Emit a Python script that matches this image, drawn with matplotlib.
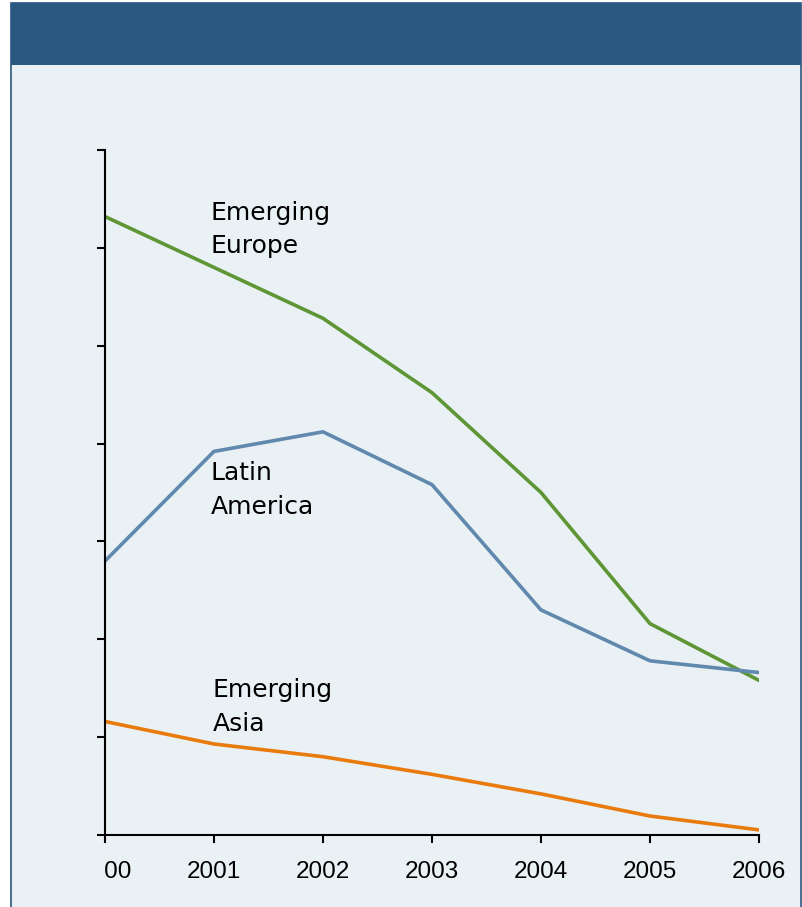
import matplotlib.pyplot as plt
from matplotlib.patches import Rectangle
import matplotlib.transforms as mtransforms

years = [2000, 2001, 2002, 2003, 2004, 2005, 2006]
year_labels = ['2000', '2001', '2002', '2003', '2004', '2005', '2006']
europe = [31.6, 29.0, 26.4, 22.6, 17.5, 10.8, 7.9]
latam = [14.0, 19.6, 20.6, 17.9, 11.5, 8.9, 8.3]
asia = [5.8, 4.65, 4.0, 3.1, 2.1, 0.97, 0.26]
y_ticks = [0, 5, 10, 15, 20, 25, 30, 35]

header_col = '#295880'
bg_col = '#e9f1f5'

fig = plt.figure(figsize=(8.02, 9.07), dpi=100)
fig.patch.set_facecolor('white')

# panel background + header band
W, H = 802, 907
fig.patches.append(Rectangle((11 / W, -0.01), (801 - 11) / W, 1.01 - 3 / H,
                             transform=fig.transFigure, facecolor=bg_col,
                             edgecolor=header_col, linewidth=1.2, zorder=-10))
fig.patches.append(Rectangle((11 / W, 1 - 65 / H), (801 - 11) / W, (65 - 3) / H,
                             transform=fig.transFigure, facecolor=header_col,
                             edgecolor='none', zorder=-9))

ax = fig.add_axes([105 / W, 1 - 835 / H, (759 - 105) / W, (835 - 150) / H])
ax.set_facecolor('none')
ax.set_zorder(5)

ax.plot(years, europe, color='#5e9535', lw=2.6, solid_capstyle='round')
ax.plot(years, latam, color='#6089ad', lw=2.6, solid_capstyle='round')
ax.plot(years, asia, color='#e97b0c', lw=2.6, solid_capstyle='round')

ax.set_xlim(2000, 2006)
ax.set_ylim(0, 35)
ax.set_yticks(y_ticks)
ax.set_yticklabels([])
ax.set_xticks(years)
ax.set_xticklabels(year_labels, fontsize=17.5, family='Liberation Sans')

for s in ['top', 'right']:
    ax.spines[s].set_visible(False)
for s in ['left', 'bottom']:
    ax.spines[s].set_linewidth(1.5)
ax.tick_params(axis='both', direction='out', length=6, width=1.5)
ax.tick_params(axis='x', pad=13)

# first year label is cut off at the axis edge in the original
clip_rect = mtransforms.Bbox.from_extents(105, 0, W, H)
fig.canvas.draw()
first = ax.get_xticklabels()[0]
first.set_clip_box(clip_rect)
first.set_clip_on(True)

lab_font = dict(fontsize=18, family='DejaVu Sans', va='top', ha='left', linespacing=1.5)
ax.text(2000.97, 32.4, 'Emerging\nEurope', **lab_font)
ax.text(2000.97, 19.1, 'Latin\nAmerica', **lab_font)
ax.text(2000.99, 8.0, 'Emerging\nAsia', **lab_font)

fig.savefig('out.png', dpi=100, facecolor=fig.get_facecolor())
